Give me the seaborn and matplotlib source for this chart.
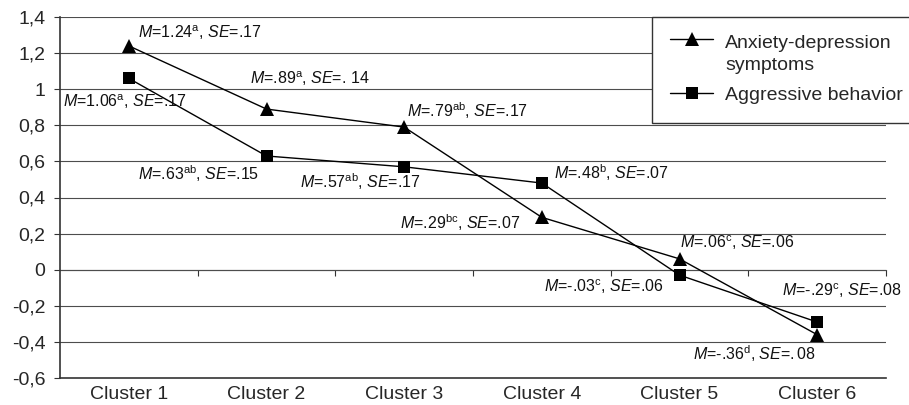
import matplotlib
matplotlib.use("Agg")
import pandas as pd
import seaborn as sns
import matplotlib.pyplot as plt

# --------------------------------------------------
# DATA
# --------------------------------------------------
clusters = ["Cluster 1", "Cluster 2", "Cluster 3", "Cluster 4", "Cluster 5", "Cluster 6"]

anxiety = [1.24, 0.89, 0.79, 0.29, 0.06, -0.36]
anxiety_sup = ["a", "a", "ab", "bc", "c", "d"]
anxiety_se = [".17", ". 14", ".17", ".07", ".06", ".08"]

aggressive = [1.06, 0.63, 0.57, 0.48, -0.03, -0.29]
aggressive_sup = ["a", "ab", "ab", "b", "c", "c"]
aggressive_se = [".17", ".15", ".17", ".07", ".06", ".08"]

y_ticks = [-0.6, -0.4, -0.2, 0, 0.2, 0.4, 0.6, 0.8, 1.0, 1.2, 1.4]
y_tick_labels = ["-0,6", "-0,4", "-0,2", "0", "0,2", "0,4", "0,6", "0,8", "1", "1,2", "1,4"]

label_anx = "Anxiety-depression\nsymptoms"
label_agg = "Aggressive behavior"

# label offsets from each point, in pixels (dx, dy)
anxiety_offsets = [(9, 13), (-16, 30), (3, 16), (-142, -5), (1, 16), (-124, -19)]
aggressive_offsets = [(-66, -23), (-128, -18), (-104, -15), (12, 10), (-135, -12), (-35, 31)]

# --------------------------------------------------
# STYLE
# --------------------------------------------------
sns.set_style("white")
plt.rcParams["font.family"] = ["Liberation Sans", "DejaVu Sans"]
plt.rcParams["mathtext.fontset"] = "custom"
plt.rcParams["mathtext.rm"] = "Liberation Sans"
plt.rcParams["mathtext.it"] = "Liberation Sans:italic"


def m_text(v):
    s = f"{v:.2f}"
    return s.replace("0.", ".", 1) if abs(v) < 1 else s


def stat_label(v, sup, se, se_italic=False):
    if se_italic:
        se_part = f"$\\mathit{{SE}}$=$\\mathit{{{se}}}$"
    else:
        se_part = f"$\\mathit{{SE}}$={se}"
    return f"$\\mathit{{M}}$={m_text(v)}$^{{\\mathrm{{{sup}}}}}$, " + se_part


df = pd.DataFrame({"cluster": clusters, "anx": anxiety, "agg": aggressive})

fig = plt.figure(figsize=(9.09, 4.05), dpi=100)
ax = fig.add_axes([60 / 909, 1 - 378 / 405, 826 / 909, 361 / 405])

# --------------------------------------------------
# LINES
# --------------------------------------------------
sns.lineplot(data=df, x="cluster", y="anx", ax=ax, color="black", lw=1.0,
             marker="^", markersize=10, markeredgewidth=0, label=label_anx,
             zorder=4)
sns.lineplot(data=df, x="cluster", y="agg", ax=ax, color="black", lw=1.0,
             marker="s", markersize=8, markeredgewidth=0, label=label_agg,
             zorder=4)

# --------------------------------------------------
# AXES
# --------------------------------------------------
ax.set_xlim(-0.5, len(clusters) - 0.5)
ax.set_ylim(-0.6, 1.4)
ax.set_yticks(y_ticks)
ax.set_yticklabels(y_tick_labels)
ax.set_xlabel("")
ax.set_ylabel("")
ax.tick_params(axis="y", direction="out", length=4.5, width=0.8, color="#333333",
               labelsize=14, pad=6, left=True)
ax.tick_params(axis="x", length=0, labelsize=14, pad=6)

for yv in y_ticks[1:]:
    ax.axhline(yv, color="#4d4d4d", lw=0.8, zorder=1)

for side in ["top", "right"]:
    ax.spines[side].set_visible(False)
for side in ["left", "bottom"]:
    ax.spines[side].set_color("#333333")
    ax.spines[side].set_linewidth(1.2)

# category axis crossing at zero
zero_ax = ax.secondary_xaxis(0.6 / 2.0)
zero_ax.set_xticks([i + 0.5 for i in range(len(clusters))])
zero_ax.set_xticklabels([])
zero_ax.tick_params(direction="out", length=4, width=0.8, color="#333333")
zero_ax.spines["bottom"].set_color("#4d4d4d")
zero_ax.spines["bottom"].set_linewidth(0.8)

# --------------------------------------------------
# ANNOTATIONS
# --------------------------------------------------
for i in range(len(clusters)):
    ax.annotate(stat_label(anxiety[i], anxiety_sup[i], anxiety_se[i], i == 5),
                xy=(i, anxiety[i]), xytext=anxiety_offsets[i],
                textcoords="offset pixels", ha="left", va="center",
                fontsize=11.5, color="#111111", zorder=5)
    ax.annotate(stat_label(aggressive[i], aggressive_sup[i], aggressive_se[i]),
                xy=(i, aggressive[i]), xytext=aggressive_offsets[i],
                textcoords="offset pixels", ha="left", va="center",
                fontsize=11.5, color="#111111", zorder=5)

# --------------------------------------------------
# LEGEND
# --------------------------------------------------
leg = ax.legend(loc="upper left", bbox_to_anchor=(652 / 909, 1 - 17 / 405, 0.32, 0),
                bbox_transform=fig.transFigure, mode="expand", fontsize=14,
                frameon=True, fancybox=False, framealpha=1, borderpad=0.95,
                labelspacing=0.65, handlelength=2.2, handletextpad=0.6,
                borderaxespad=0)
leg.get_frame().set_edgecolor("#333333")
leg.get_frame().set_linewidth(1.0)
leg.get_texts()[0].set_linespacing(1.35)
# move first handle up to the first text line, as in the reference
h0 = leg.legend_handles[0]
h0.set_ydata([v + 11 for v in h0.get_ydata()])
leg.set_zorder(6)

fig.savefig("out.png", dpi=100)
